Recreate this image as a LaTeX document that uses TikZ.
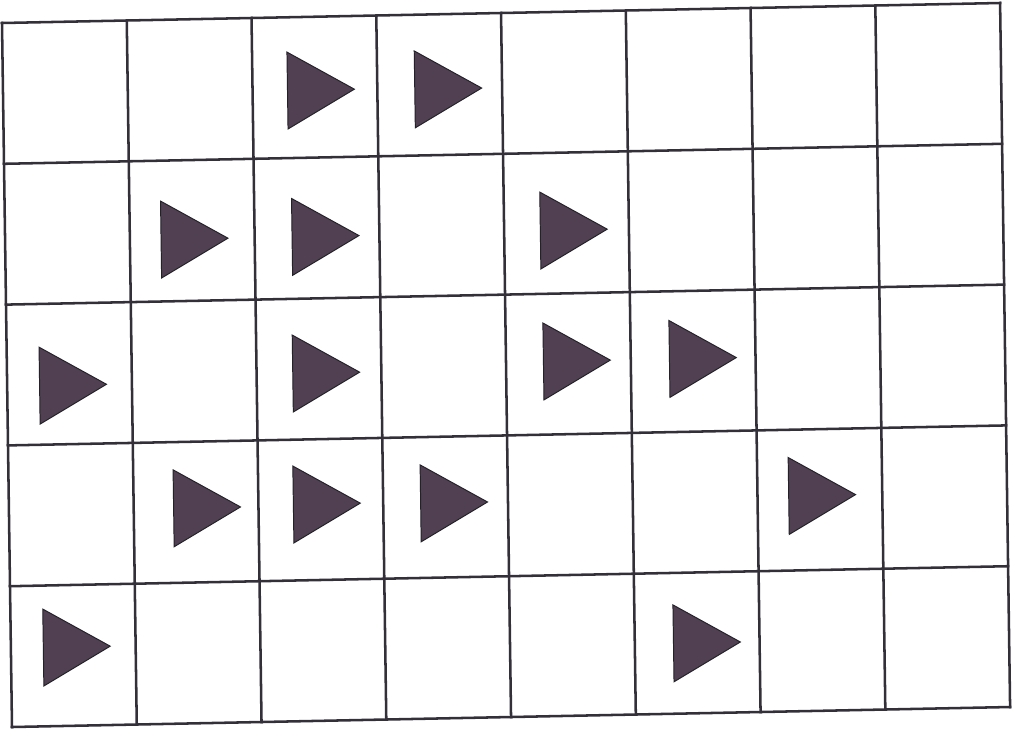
\documentclass[tikz,border=0pt]{standalone}
\usetikzlibrary{calc}
\definecolor{gridink}{HTML}{33303A}
\definecolor{flagink}{HTML}{504052}
\tikzset{
  gridline/.style={draw=gridink,line width=1.8pt,line cap=rect},
  flag/.style={fill=flagink,draw=gridink!70!black,line width=0.7pt,line join=miter}
}
\begin{document}
\begin{tikzpicture}
  \fill[white] (0,0) rectangle (25.55,-18.2);
  \useasboundingbox (0,0) rectangle (25.55,-18.2);
  % the sheet is scanned a little askew: skewed axes, one unit per cell
  \begin{scope}[shift={(0.05,-0.575)},x={(3.119cm,0.0625cm)},y={(0.05cm,-3.52cm)}]
    \foreach \i in {0,...,8} \draw[gridline] (\i,0) -- (\i,5);
    \foreach \j in {0,...,5} \draw[gridline] (0,\j) -- (8,\j);
    % column/row/offset in cell
    \foreach \c/\r/\du/\dv in {2/0/.28/.52, 3/0/.30/.53,
        1/1/.25/.56, 2/1/.30/.56, 4/1/.29/.55,
        0/2/.26/.58, 2/2/.29/.53, 4/2/.30/.48, 5/2/.31/.48,
        1/3/.32/.47, 2/3/.28/.46, 3/3/.30/.47, 6/3/.25/.47,
        0/4/.26/.44, 5/4/.31/.50}
      \draw[flag] (\c+\du,\r+\dv-.273) -- ++(0,.546) -- (\c+\du+.536,\r+\dv) -- cycle;
  \end{scope}
\end{tikzpicture}
\end{document}
